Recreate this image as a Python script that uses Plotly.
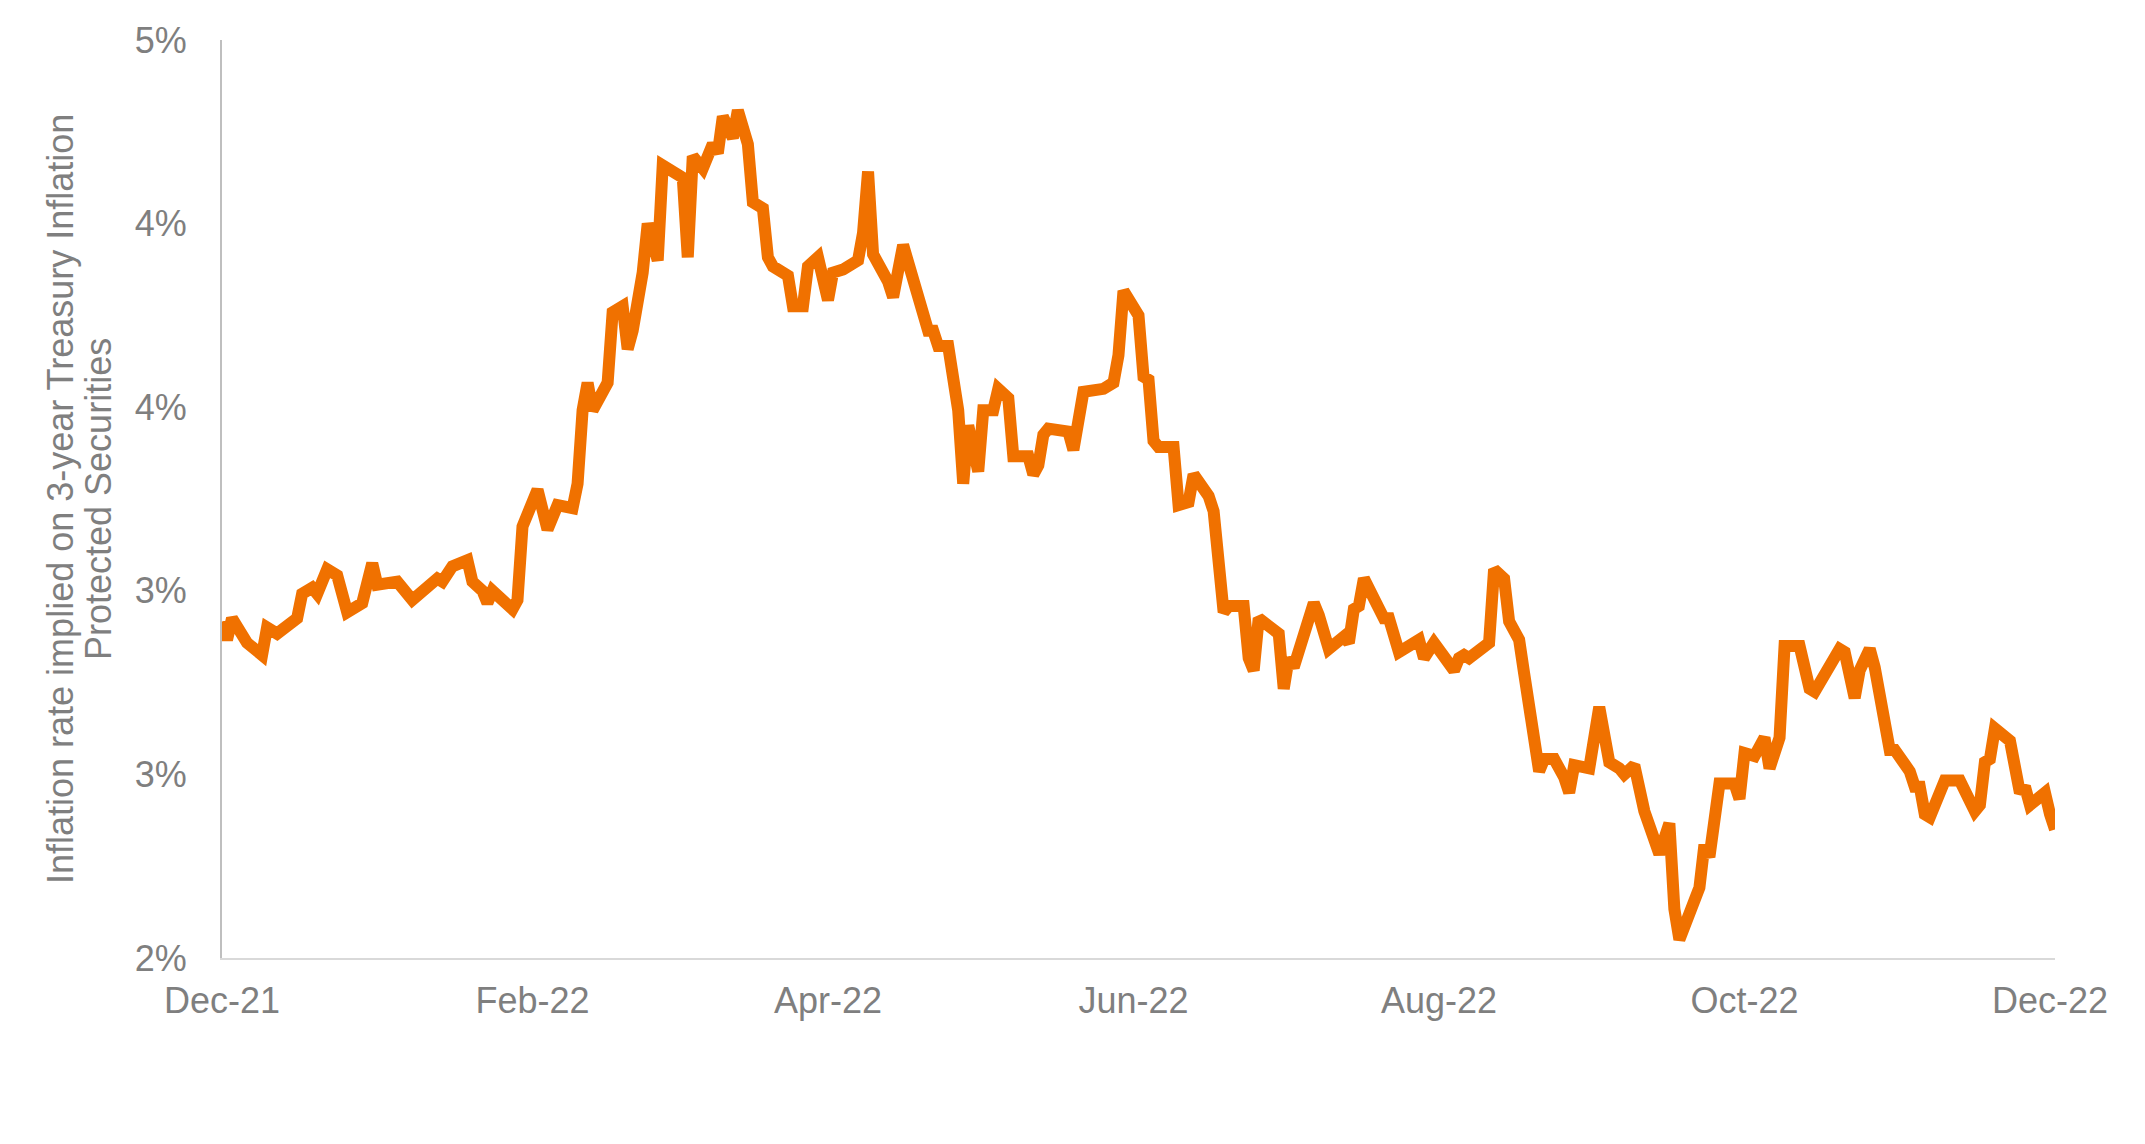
import plotly.graph_objects as go

# ---- data ----
dates = [
    "2021-12-01", "2021-12-02", "2021-12-03", "2021-12-06", "2021-12-09", "2021-12-10",
    "2021-12-12", "2021-12-16", "2021-12-17", "2021-12-19", "2021-12-20", "2021-12-22",
    "2021-12-24", "2021-12-26", "2021-12-29", "2021-12-31",
    "2022-01-01", "2022-01-05", "2022-01-08", "2022-01-13", "2022-01-14", "2022-01-16",
    "2022-01-19", "2022-01-20", "2022-01-22", "2022-01-23", "2022-01-24", "2022-01-28",
    "2022-01-29", "2022-01-30",
    "2022-02-01", "2022-02-02", "2022-02-04", "2022-02-06", "2022-02-09", "2022-02-10",
    "2022-02-11", "2022-02-12", "2022-02-13", "2022-02-16", "2022-02-17", "2022-02-19",
    "2022-02-20", "2022-02-21", "2022-02-23", "2022-02-24", "2022-02-26", "2022-02-27",
    "2022-03-03", "2022-03-04", "2022-03-05", "2022-03-07", "2022-03-09", "2022-03-10",
    "2022-03-11", "2022-03-13", "2022-03-14", "2022-03-16", "2022-03-17", "2022-03-19",
    "2022-03-20", "2022-03-21", "2022-03-24", "2022-03-25", "2022-03-27", "2022-03-28",
    "2022-03-30",
    "2022-04-01", "2022-04-02", "2022-04-04", "2022-04-07", "2022-04-08", "2022-04-09",
    "2022-04-10", "2022-04-13", "2022-04-14", "2022-04-16", "2022-04-18", "2022-04-21",
    "2022-04-22", "2022-04-23", "2022-04-25", "2022-04-27", "2022-04-28", "2022-04-29",
    "2022-05-01", "2022-05-02", "2022-05-04", "2022-05-05", "2022-05-07", "2022-05-08",
    "2022-05-11", "2022-05-12", "2022-05-13", "2022-05-14", "2022-05-15", "2022-05-19",
    "2022-05-20", "2022-05-21", "2022-05-22", "2022-05-26", "2022-05-28", "2022-05-29",
    "2022-05-30",
    "2022-06-02", "2022-06-03", "2022-06-04", "2022-06-05", "2022-06-06", "2022-06-09",
    "2022-06-10", "2022-06-12", "2022-06-13", "2022-06-16", "2022-06-17", "2022-06-18",
    "2022-06-19", "2022-06-20", "2022-06-23", "2022-06-24", "2022-06-25", "2022-06-26",
    "2022-06-30",
    "2022-07-01", "2022-07-02", "2022-07-03", "2022-07-04", "2022-07-06", "2022-07-07",
    "2022-07-08", "2022-07-10", "2022-07-13", "2022-07-14", "2022-07-15", "2022-07-16",
    "2022-07-17", "2022-07-21", "2022-07-22", "2022-07-24", "2022-07-28", "2022-07-29",
    "2022-07-31",
    "2022-08-04", "2022-08-05", "2022-08-06", "2022-08-07", "2022-08-11", "2022-08-12",
    "2022-08-14", "2022-08-15", "2022-08-17", "2022-08-18", "2022-08-20", "2022-08-21",
    "2022-08-22", "2022-08-24", "2022-08-26", "2022-08-27", "2022-08-28", "2022-08-31",
    "2022-09-02", "2022-09-04", "2022-09-06", "2022-09-07", "2022-09-09", "2022-09-11",
    "2022-09-14", "2022-09-16", "2022-09-17", "2022-09-18", "2022-09-22", "2022-09-23",
    "2022-09-24", "2022-09-25", "2022-09-26", "2022-09-29", "2022-09-30",
    "2022-10-01", "2022-10-03", "2022-10-05", "2022-10-06", "2022-10-08", "2022-10-09",
    "2022-10-12", "2022-10-14", "2022-10-15", "2022-10-20", "2022-10-21", "2022-10-23",
    "2022-10-24", "2022-10-26", "2022-10-27", "2022-10-30", "2022-10-31",
    "2022-11-03", "2022-11-04", "2022-11-05", "2022-11-06", "2022-11-07", "2022-11-10",
    "2022-11-13", "2022-11-16", "2022-11-17", "2022-11-18", "2022-11-19", "2022-11-20",
    "2022-11-23", "2022-11-25", "2022-11-26", "2022-11-27", "2022-11-30",
    "2022-12-01", "2022-12-02",
]

breakeven_pct = [
    3.10, 3.04, 3.11, 3.03, 2.99, 3.08,
    3.06, 3.11, 3.19, 3.21, 3.19, 3.27,
    3.25, 3.13, 3.16, 3.29,
    3.22, 3.23, 3.17, 3.24, 3.23, 3.28,
    3.30, 3.23, 3.20, 3.16, 3.20, 3.14,
    3.17, 3.41,
    3.49, 3.53, 3.40, 3.48, 3.47, 3.55,
    3.79, 3.88, 3.79, 3.88, 4.11, 4.13,
    3.99, 4.05, 4.24, 4.40, 4.28, 4.59,
    4.55, 4.29, 4.62, 4.58, 4.66, 4.63,
    4.75, 4.68, 4.77, 4.66, 4.47, 4.45,
    4.29, 4.26, 4.23, 4.13, 4.13, 4.26,
    4.29,
    4.15, 4.24, 4.25, 4.28, 4.37, 4.57,
    4.30, 4.21, 4.16, 4.33, 4.23, 4.05,
    4.05, 4.00, 4.00, 3.79, 3.55, 3.74,
    3.59, 3.79, 3.79, 3.86, 3.83, 3.64,
    3.64, 3.58, 3.61, 3.71, 3.73, 3.72,
    3.66, 3.74, 3.85, 3.86, 3.88, 3.97,
    4.18,
    4.10, 3.90, 3.89, 3.69, 3.67, 3.67,
    3.48, 3.49, 3.58, 3.51, 3.46, 3.25,
    3.13, 3.15, 3.15, 2.98, 2.94, 3.11,
    3.06,
    2.88, 2.98, 2.95, 3.00, 3.09, 3.16,
    3.12, 3.01, 3.05, 3.03, 3.14, 3.15,
    3.24, 3.11, 3.11, 3.00, 3.04, 2.98,
    3.03,
    2.94, 2.98, 2.99, 2.98, 3.03, 3.27,
    3.24, 3.10, 3.04, 2.93, 2.72, 2.61,
    2.65, 2.65, 2.59, 2.54, 2.63, 2.62,
    2.82, 2.64, 2.62, 2.60, 2.63, 2.48,
    2.34, 2.44, 2.16, 2.06, 2.23, 2.37,
    2.33, 2.48, 2.57, 2.57, 2.52,
    2.67, 2.66, 2.72, 2.62, 2.72, 3.02,
    3.02, 2.88, 2.87, 3.01, 3.00, 2.85,
    2.94, 3.01, 2.95, 2.68, 2.68,
    2.61, 2.56, 2.56, 2.47, 2.46, 2.58,
    2.58, 2.48, 2.50, 2.64, 2.65, 2.75,
    2.71, 2.54, 2.56, 2.50, 2.54,
    2.47, 2.42,
]

x_tick_dates = ["2021-12-01", "2022-02-01", "2022-04-01", "2022-06-01",
                "2022-08-01", "2022-10-01", "2022-12-01"]
x_tick_labels = ["Dec-21", "Feb-22", "Apr-22", "Jun-22", "Aug-22", "Oct-22", "Dec-22"]
y_tick_values = [2.0, 2.6, 3.2, 3.8, 4.4, 5.0]
y_tick_labels = ["2%", "3%", "3%", "4%", "4%", "5%"]
y_title_lines = ["Inflation rate implied on 3-year Treasury Inflation",
                 "Protected Securities"]

# ---- styling ----
LINE_COLOR = "#F07100"
TEXT_COLOR = "#7F7F7F"
FONT = "Liberation Sans, Arial, sans-serif"

W, H = 2145, 1144
ML, MR, MT, MB = 214, 98, 25, 194

fig = go.Figure()
fig.add_trace(go.Scatter(
    x=dates, y=breakeven_pct, mode="lines",
    line=dict(color=LINE_COLOR, width=12),
    showlegend=False, hoverinfo="x+y",
))

fig.update_layout(
    width=W, height=H,
    margin=dict(l=ML, r=MR, t=MT, b=MB),
    paper_bgcolor="white", plot_bgcolor="white",
    font=dict(family=FONT, size=36, color=TEXT_COLOR),
    xaxis=dict(
        type="date",
        range=["2021-12-01", "2022-12-02"],
        tickmode="array", tickvals=x_tick_dates, ticktext=x_tick_labels,
        showgrid=False, zeroline=False,
        showline=True, linecolor="#D9D9D9", linewidth=2,
        ticks="outside", ticklen=10, tickcolor="rgba(0,0,0,0)",
        tickfont=dict(size=36, color=TEXT_COLOR),
    ),
    yaxis=dict(
        range=[2.0, 5.0],
        tickmode="array", tickvals=y_tick_values, ticktext=y_tick_labels,
        showgrid=False, zeroline=False,
        showline=True, linecolor="#BFBFBF", linewidth=2,
        ticks="outside", ticklen=26, tickcolor="rgba(0,0,0,0)",
        tickfont=dict(size=36, color=TEXT_COLOR),
    ),
)

# Two-line y-axis title as rotated annotations
title_x_px = [52, 90]
plot_w = W - ML - MR
for line_text, xp in zip(y_title_lines, title_x_px):
    fig.add_annotation(
        text=line_text, textangle=-90,
        xref="paper", yref="paper",
        x=(xp - ML) / plot_w, y=0.5,
        xanchor="center", yanchor="middle",
        showarrow=False,
        font=dict(family=FONT, size=36, color=TEXT_COLOR),
    )

fig.write_html("out.html")
